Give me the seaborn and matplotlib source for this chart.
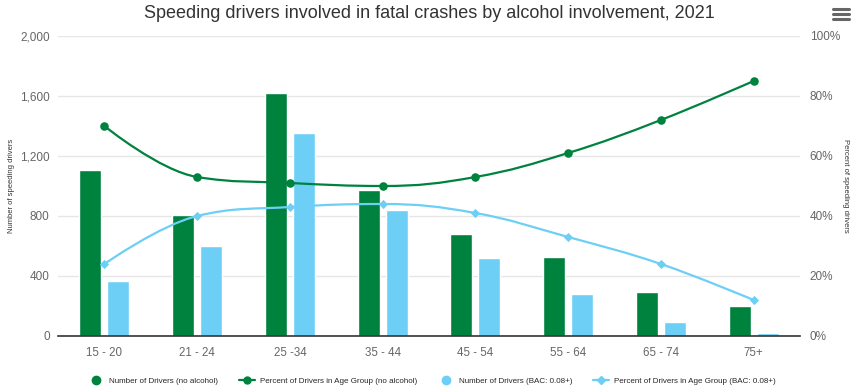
import numpy as np
import pandas as pd
import seaborn as sns
import matplotlib.pyplot as plt
from matplotlib.path import Path
from matplotlib.patches import PathPatch
from matplotlib.lines import Line2D
from matplotlib.ticker import FuncFormatter

# data
age_groups = ["15 - 20", "21 - 24", "25 -34", "35 - 44", "45 - 54", "55 - 64", "65 - 74", "75+"]
drivers_no_alcohol = [1105, 810, 1620, 975, 680, 527, 293, 200]
drivers_bac08 = [367, 600, 1353, 840, 520, 280, 93, 20]
pct_no_alcohol = [70, 53, 51, 50, 53, 61, 72, 85]
pct_bac08 = [24, 40, 43, 44, 41, 33, 24, 12]

series_names = ["Number of Drivers (no alcohol)", "Percent of Drivers in Age Group (no alcohol)",
                "Number of Drivers (BAC: 0.08+)", "Percent of Drivers in Age Group (BAC: 0.08+)"]

GREEN = "#00823F"
BLUE = "#6DCFF6"
W, H = 859, 392


def spline_path(xs, ys, smoothing=1.5):
    # highcharts style spline: bezier control points from neighbours
    denom = smoothing + 1
    verts = [(xs[0], ys[0])]
    codes = [Path.MOVETO]
    prev_right = (xs[0], ys[0])
    n = len(xs)
    for i in range(1, n):
        x, y = xs[i], ys[i]
        lx, ly = xs[i - 1], ys[i - 1]
        if i < n - 1:
            nx, ny = xs[i + 1], ys[i + 1]
            lcx = (smoothing * x + lx) / denom
            lcy = (smoothing * y + ly) / denom
            rcx = (smoothing * x + nx) / denom
            rcy = (smoothing * y + ny) / denom
            corr = (rcy - lcy) * (rcx - x) / (rcx - lcx) + y - rcy
            lcy += corr
            rcy += corr
            if lcy > ly and lcy > y:
                lcy = max(ly, y)
                rcy = 2 * y - lcy
            elif lcy < ly and lcy < y:
                lcy = min(ly, y)
                rcy = 2 * y - lcy
            if rcy > ny and rcy > y:
                rcy = max(ny, y)
                lcy = 2 * y - rcy
            elif rcy < ny and rcy < y:
                rcy = min(ny, y)
                lcy = 2 * y - rcy
        else:
            lcx, lcy = x, y
            rcx, rcy = x, y
        verts += [prev_right, (lcx, lcy), (x, y)]
        codes += [Path.CURVE4] * 3
        prev_right = (rcx, rcy)
    return Path(verts, codes)


sns.set_theme(style="white")
plt.rcParams['font.family'] = ['Liberation Sans', 'DejaVu Sans']

bars = pd.DataFrame({
    "age": age_groups * 2,
    "drivers": drivers_no_alcohol + drivers_bac08,
    "series": [series_names[0]] * 8 + [series_names[2]] * 8,
})

fig = plt.figure(figsize=(W / 100, H / 100), dpi=100)
ax = fig.add_axes([58 / W, 56 / H, 742 / W, 300 / H])

sns.barplot(data=bars, x="age", y="drivers", hue="series", palette=[GREEN, BLUE],
            width=0.6, gap=0.21, saturation=1, legend=False, ax=ax)
ax.set_ylim(0, 2000)
ax.set_yticks(range(0, 2001, 400))
ax.yaxis.set_major_formatter(FuncFormatter(lambda v, p: f"{int(v):,}"))
ax.set_xlim(-0.5, 7.5)
ax.grid(axis='y', color='#e6e6e6', lw=1)
ax.set_axisbelow(True)
ax.set_xlabel("")
ax.set_ylabel("")
for s in ["top", "left", "right"]:
    ax.spines[s].set_visible(False)
ax.spines["bottom"].set_color("#333333")
ax.spines["bottom"].set_linewidth(1.2)
ax.tick_params(axis='y', length=0, pad=6, labelsize=8.5, labelcolor='#666666')
ax.tick_params(axis='x', length=0, pad=8, labelsize=8.3, labelcolor='#666666')

ax2 = ax.twinx()
ax2.set_ylim(0, 100)
ax2.set_yticks(range(0, 101, 20))
ax2.yaxis.set_major_formatter(FuncFormatter(lambda v, p: f"{int(v)}%"))
ax2.tick_params(axis='y', length=0, pad=7, labelsize=8.5, labelcolor='#666666')
for s in ax2.spines.values():
    s.set_visible(False)
ax2.grid(False)

xs = list(range(len(age_groups)))
ax2.add_patch(PathPatch(spline_path(xs, pct_no_alcohol), facecolor='none', edgecolor=GREEN, lw=1.6))
ax2.add_patch(PathPatch(spline_path(xs, pct_bac08), facecolor='none', edgecolor=BLUE, lw=1.6))
sns.scatterplot(x=xs, y=pct_no_alcohol, marker='o', s=38, color=GREEN, linewidth=0, ax=ax2)
sns.scatterplot(x=xs, y=pct_bac08, marker='D', s=22, color=BLUE, linewidth=0, ax=ax2)
ax2.set_xlim(-0.5, 7.5)

fig.text(429 / W, 1 - 13 / H, "Speeding drivers involved in fatal crashes by alcohol involvement, 2021",
         ha='center', va='center', fontsize=13, color='#333333')
fig.text(12 / W, 206 / H, "Number of speeding drivers", rotation=90, ha='center', va='center',
         fontsize=5.5, color='#333333')
fig.text(846 / W, 206 / H, "Percent of speeding drivers", rotation=270, ha='center', va='center',
         fontsize=5.5, color='#333333')

# menu icon
for yy in [9, 14, 19]:
    fig.add_artist(Line2D([833 / W, 849 / W], [1 - yy / H, 1 - yy / H], color='#666666', lw=2.2,
                          solid_capstyle='round'))

handles = [
    Line2D([], [], marker='o', ls='', color=GREEN, ms=6),
    Line2D([], [], marker='o', color=GREEN, lw=1.6, ms=5),
    Line2D([], [], marker='o', ls='', color=BLUE, ms=6),
    Line2D([], [], marker='D', color=BLUE, lw=1.6, ms=4),
]
fig.legend(handles, series_names, loc='center', bbox_to_anchor=(432 / W, 1 - 381 / H), ncol=4,
           frameon=False, handlelength=2.0, handletextpad=0.6, columnspacing=2.6,
           prop={'size': 5.8})

fig.savefig("out.png", dpi=100)
